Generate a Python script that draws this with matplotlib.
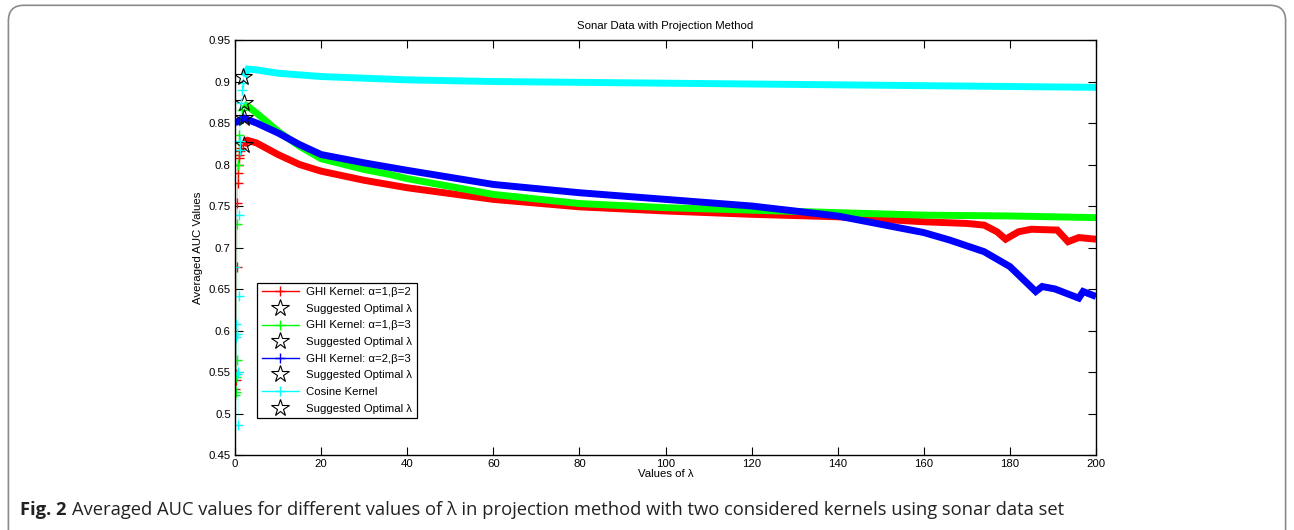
import matplotlib.pyplot as plt
from matplotlib.patches import FancyBboxPatch
from matplotlib.ticker import FuncFormatter

plt.rcParams['font.family'] = ['Liberation Sans', 'DejaVu Sans']

# main part of each curve (lambda >= 2)
lam_red = [2, 3, 5, 10, 15, 20, 30, 40, 60, 80, 100, 120, 140, 150, 160, 170,
           174, 177, 179, 182, 185, 191, 193.5, 196, 200]
auc_red = [0.824, 0.829, 0.826, 0.812, 0.800, 0.792, 0.781, 0.772, 0.758, 0.749,
           0.744, 0.740, 0.737, 0.734, 0.731, 0.729, 0.727, 0.719, 0.710, 0.719,
           0.722, 0.721, 0.707, 0.712, 0.710]

lam_green = [2, 3, 5, 10, 15, 20, 30, 36, 40, 60, 80, 100, 120, 140, 160, 180, 200]
auc_green = [0.873, 0.870, 0.862, 0.840, 0.822, 0.807, 0.794, 0.788, 0.783, 0.764,
             0.753, 0.748, 0.745, 0.742, 0.739, 0.738, 0.736]

lam_blue = [0, 2, 5, 10, 15, 20, 30, 40, 60, 80, 100, 120, 140, 150, 160, 166,
            174, 180, 186, 187.5, 190.5, 196, 197, 200]
auc_blue = [0.850, 0.856, 0.850, 0.838, 0.824, 0.812, 0.802, 0.793, 0.776, 0.766,
            0.758, 0.750, 0.738, 0.728, 0.718, 0.709, 0.695, 0.677, 0.647, 0.653,
            0.650, 0.639, 0.647, 0.641]

lam_cyan = [2, 3, 5, 10, 20, 40, 60, 80, 100, 120, 140, 160, 180, 200]
auc_cyan = [0.906, 0.915, 0.914, 0.910, 0.906, 0.902, 0.900, 0.899, 0.898, 0.897,
            0.896, 0.895, 0.894, 0.893]

# first few lambda values (below 2), scattered
lam0_red = [0.1, 0.2, 0.3, 0.4, 0.5, 0.6, 0.7, 0.8, 0.9, 1.0, 1.2, 1.5, 1.8]
auc0_red = [0.530, 0.548, 0.540, 0.677, 0.754, 0.778, 0.790, 0.800, 0.808, 0.812,
            0.816, 0.820, 0.824]
lam0_green = [0.1, 0.2, 0.3, 0.4, 0.5, 0.7, 0.9, 1.2, 1.6]
auc0_green = [0.522, 0.526, 0.544, 0.564, 0.728, 0.800, 0.836, 0.854, 0.866]
lam0_cyan = [0.1, 0.2, 0.3, 0.4, 0.5, 0.6, 0.8, 0.9, 1.0, 1.1, 1.2, 1.4, 1.6, 1.8]
auc0_cyan = [0.676, 0.608, 0.592, 0.596, 0.548, 0.550, 0.486, 0.642, 0.739, 0.818,
             0.828, 0.874, 0.890, 0.898]

# suggested optimal lambda per kernel
opt_lam = [2.0, 2.1, 2.0, 1.9]
opt_auc = [0.824, 0.874, 0.856, 0.906]

labels = ['GHI Kernel: α=1,β=2', 'GHI Kernel: α=1,β=3',
          'GHI Kernel: α=2,β=3', 'Cosine Kernel']
colors = ['#ff0000', '#00ff00', '#0000ff', '#00ffff']

fig = plt.figure(figsize=(12.94, 5.30), dpi=100)

# outer frame of the figure panel
frame = FancyBboxPatch((0.0065, -0.05), 0.987, 1.04, transform=fig.transFigure,
                       boxstyle='round,pad=0,rounding_size=0.012',
                       fc='none', ec='#8a8a8a', lw=1.2, mutation_aspect=2.44)
fig.patches.append(frame)

ax = fig.add_axes([0.1816, 0.1415, 0.6654, 0.783])

early = [(lam0_red, auc0_red), (lam0_green, auc0_green), ([], []), (lam0_cyan, auc0_cyan)]
main = [(lam_red, auc_red), (lam_green, auc_green), (lam_blue, auc_blue), (lam_cyan, auc_cyan)]

handles = []
for i in range(4):
    c = colors[i]
    ex, ey = early[i]
    mx, my = main[i]
    # thin connecting line through the early points
    ax.plot(ex + mx[:1], ey + my[:1], '-', color=c, lw=0.6, alpha=0.25)
    ax.plot(ex, ey, '+', color=c, ms=7, mew=1)
    # dense band of markers drawn as a thick line
    ax.plot(mx, my, '-', color=c, lw=5, solid_joinstyle='miter', solid_capstyle='butt')
    h, = ax.plot([], [], '-+', color=c, lw=1, ms=7, mew=1)
    st, = ax.plot(opt_lam[i], opt_auc[i], '*', ms=13, mfc='none', mec='k', mew=0.8)
    handles += [h, st]

leg_labels = []
for lb in labels:
    leg_labels += [lb, 'Suggested Optimal λ']

leg = ax.legend(handles, leg_labels, loc='lower left', bbox_to_anchor=(0.0256, 0.089),
                borderaxespad=0, fontsize=8.2, fancybox=False, edgecolor='k',
                handlelength=3.3, labelspacing=0.58, handletextpad=0.6,
                borderpad=0.4, framealpha=1)
leg.get_frame().set_linewidth(0.9)

ax.set_xlim(0, 200)
ax.set_ylim(0.45, 0.95)
ax.set_xticks(range(0, 201, 20))
ax.set_yticks([0.45 + 0.05 * k for k in range(11)])
ax.yaxis.set_major_formatter(FuncFormatter(lambda v, p: '%g' % round(v, 2)))
ax.tick_params(direction='in', length=6, width=0.8, labelsize=8.2, top=True,
               right=True, pad=3)
for s in ax.spines.values():
    s.set_linewidth(1)
ax.set_title('Sonar Data with Projection Method', fontsize=8.2, pad=8)
ax.set_xlabel('Values of λ', fontsize=8.2, labelpad=0)
ax.set_ylabel('Averaged AUC Values', fontsize=8.2, labelpad=4)

# caption under the chart
cap_y = 0.029
cap1 = fig.text(0.0155, cap_y, 'Fig. 2', fontsize=13.2, fontweight='bold',
                family=['Open Sans', 'DejaVu Sans'], color='#222222', va='baseline')
fig.canvas.draw()
bb = cap1.get_window_extent()
fig.text((bb.x1 + 5) / fig.bbox.width, cap_y,
         'Averaged AUC values for different values of λ in projection method with two '
         'considered kernels using sonar data set',
         fontsize=13.2, family=['Open Sans', 'DejaVu Sans'], color='#222222', va='baseline')

fig.savefig('out.png', dpi=100)
